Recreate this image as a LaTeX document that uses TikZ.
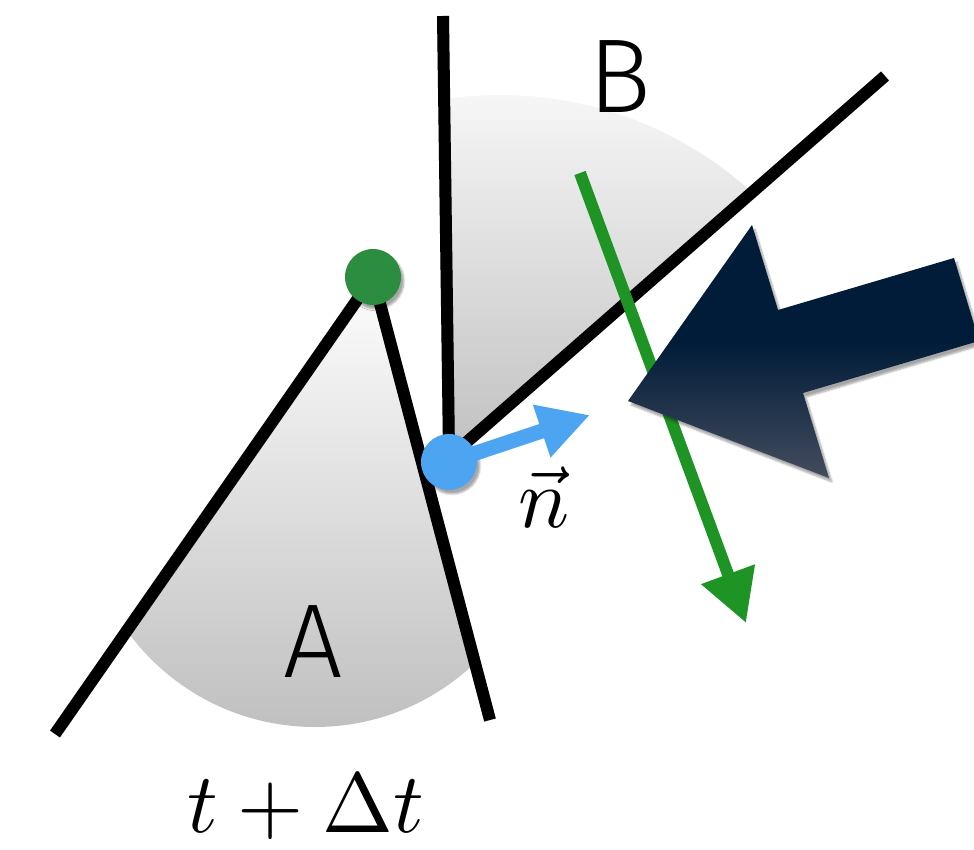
\documentclass[tikz,border=0pt]{standalone}
\usepackage{fontspec}
\newfontfamily\lsans{Fira Sans Light}
\usetikzlibrary{arrows.meta,shadows.blur}
\definecolor{navyD}{RGB}{0,28,56}
\definecolor{navyL}{RGB}{68,76,94}
\definecolor{greenDot}{RGB}{44,140,64}
\definecolor{greenArr}{RGB}{30,148,36}
\definecolor{blueC}{RGB}{77,165,242}
\definecolor{grayB}{RGB}{192,192,192}
\pgfdeclareverticalshading{navyshade}{100bp}{color(0bp)=(navyL); color(25bp)=(navyL); color(52bp)=(navyD); color(100bp)=(navyD)}
\tikzset{
  blk/.style={line width=12pt, black},
  lineshadow/.style={line width=12pt, black, opacity=0.18},
  dotnode/.style={circle, inner sep=0pt, minimum size=56pt},
  sans/.style={font=\lsans\fontsize{105}{110}\selectfont, inner sep=0pt},
  mathlbl/.style={scale=8.5, anchor=base, inner sep=0pt},
  softshadow/.style={blur shadow={shadow xshift=3pt, shadow yshift=-4pt, shadow blur steps=6, shadow opacity=35}}
}
\begin{document}
\begin{tikzpicture}[x=1pt,y=-1pt]
\useasboundingbox (0,0) rectangle (974,850);
\clip (0,0) rectangle (974,850);

\coordinate (G) at (373,277);
\coordinate (L) at (55,734);
\coordinate (R) at (490,720);
\coordinate (Vt) at (443,16);
\coordinate (Vb) at (449,452);
\coordinate (Dt) at (885,76);
\coordinate (Db) at (452,455);
\coordinate (P) at (449,462);
\coordinate (ntip) at (590,415);
\coordinate (gs) at (580,173);
\coordinate (ge) at (746,623);

% shaded region A
\begin{scope}
  \clip (373,277) -- (30,770) -- (503,770) -- cycle;
  \clip (315,495) circle[radius=232pt];
  \shade[top color=white, bottom color=grayB] (0,263) rectangle (600,727);
\end{scope}

% shaded region B
\begin{scope}
  \clip (442.8,0) -- (449,455) -- (972,0) -- cycle;
  \clip (500,470) circle[radius=375pt];
  \shade[top color=gray!7, bottom color=grayB] (430,95) rectangle (900,460);
\end{scope}

% soft line shadows
\begin{scope}[shift={(3,4)}]
  \draw[lineshadow] (G) -- (L);
  \draw[lineshadow] (G) -- (R);
  \draw[lineshadow] (Vt) -- (Vb);
  \draw[lineshadow] (Db) -- (Dt);
\end{scope}

% black lines
\draw[blk] (G) -- (L);
\draw[blk] (G) -- (R);
\draw[blk] (Vt) -- (Vb);
\draw[blk] (Db) -- (Dt);

% green arrow
\draw[line width=12pt, greenArr, -{Triangle[length=52pt,width=54pt]}] (gs) -- (ge);

% big navy arrow
\shade[shading=navyshade, softshadow]
  (628,401) -- (752,225) -- (778,310) -- (954,258) -- (979,341) -- (803,393) -- (829,478) -- cycle;

% dots
\node[dotnode, fill=greenDot, softshadow] (gdot) at (G) {};
\node[dotnode, fill=blueC, softshadow] (bdot) at (P) {};

% normal vector
\draw[line width=15pt, blueC, -{Triangle[length=51pt,width=52pt]}] (bdot.center) -- (ntip);

% labels
\node[sans] (lblB) at (620,77) {B};
\node[sans] (lblA) at (313,642) {A};
\node[mathlbl] (lbln) at (544,527) {$\vec{n}$};
\node[mathlbl] (lblt) at (306,832) {$t+\Delta t$};
\end{tikzpicture}
\end{document}
